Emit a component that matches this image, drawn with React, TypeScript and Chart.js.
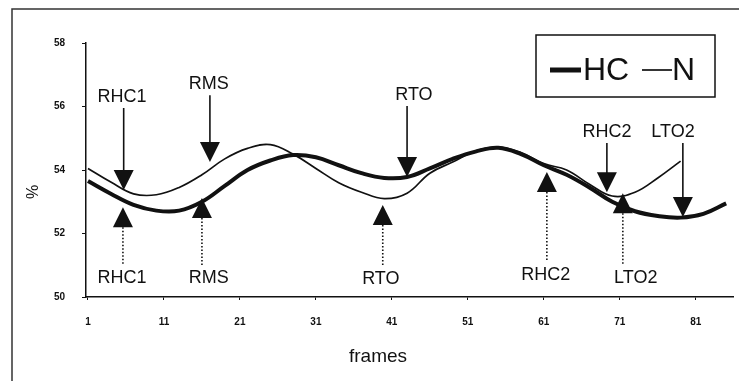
import React, { useEffect, useRef } from "react";
import { Chart, registerables } from "chart.js";

Chart.register(...registerables);

// ---- data ----
const hcFrames = [1, 4, 7, 10, 13, 16, 19, 22, 25, 28, 31, 34, 37, 40, 43, 46, 49, 52, 55, 58, 61, 64, 67, 70, 73, 76, 79, 82, 85];
const hcValues = [53.65, 53.25, 52.9, 52.72, 52.72, 53.0, 53.5, 54.0, 54.3, 54.47, 54.4, 54.15, 53.9, 53.75, 53.78, 54.05, 54.35, 54.58, 54.7, 54.5, 54.15, 53.85, 53.45, 53.0, 52.7, 52.55, 52.5, 52.62, 52.95];

const nFrames = [1, 4, 7, 10, 13, 16, 19, 22, 25, 28, 31, 34, 37, 40, 43, 46, 49, 52, 55, 58, 61, 64, 67, 70, 73, 76, 79];
const nValues = [54.05, 53.62, 53.25, 53.22, 53.45, 53.85, 54.35, 54.68, 54.8, 54.5, 54.05, 53.6, 53.3, 53.1, 53.27, 53.9, 54.25, 54.6, 54.72, 54.55, 54.2, 54.0, 53.55, 53.18, 53.3, 53.75, 54.28];

const xTickValues = [1, 11, 21, 31, 41, 51, 61, 71, 81];
const yTickValues = [50, 52, 54, 56, 58];

// events marked with solid arrows from above
const downLabels = ["RHC1", "RMS", "RTO", "RHC2", "LTO2"];
const downFrames = [5.7, 17.05, 43.0, 69.3, 79.3];
const downTips = [53.37, 54.25, 53.78, 53.3, 52.52];
const downLabelFrames = [5.47, 16.9, 43.9, 69.3, 78.0];
const downLabelLevels = [56.3, 56.7, 56.36, 55.2, 55.2];

// events marked with dotted arrows from below
const upLabels = ["RHC1", "RMS", "RTO", "RHC2", "LTO2"];
const upFrames = [5.6, 16.0, 39.8, 61.4, 71.4];
const upTips = [52.83, 53.12, 52.9, 53.94, 53.27];
const upLabelFrames = [5.47, 16.9, 39.55, 61.26, 73.1];
const upLabelLevels = [50.6, 50.6, 50.58, 50.69, 50.6];

const INK = "#111";
const FONT = "'Liberation Sans', Arial, sans-serif";

const decorPlugin = {
  id: "decor",
  afterDraw(chart: any) {
    const ctx = chart.ctx as CanvasRenderingContext2D;
    const xs = chart.scales.x;
    const ys = chart.scales.y;
    ctx.save();

    // outer page frame
    ctx.strokeStyle = "#333";
    ctx.lineWidth = 1.5;
    ctx.beginPath();
    ctx.moveTo(12, 381);
    ctx.lineTo(12, 9);
    ctx.lineTo(739, 9);
    ctx.stroke();

    // axis titles
    ctx.fillStyle = INK;
    ctx.font = `19px ${FONT}`;
    ctx.textAlign = "center";
    ctx.textBaseline = "alphabetic";
    ctx.fillText("frames", 378, 362);

    ctx.save();
    ctx.translate(34, 192);
    ctx.rotate(-Math.PI / 2);
    ctx.font = `16px ${FONT}`;
    ctx.textBaseline = "middle";
    ctx.fillText("%", 0, 0);
    ctx.restore();

    // legend
    const ds = chart.data.datasets;
    ctx.lineWidth = 1.5;
    ctx.strokeStyle = INK;
    ctx.strokeRect(536, 35, 179, 62);
    ctx.font = `32px ${FONT}`;
    ctx.textAlign = "left";
    ctx.textBaseline = "middle";
    ctx.lineCap = "butt";
    ctx.lineWidth = ds[0].borderWidth + 1;
    ctx.beginPath();
    ctx.moveTo(550, 70);
    ctx.lineTo(581, 70);
    ctx.stroke();
    ctx.fillText(ds[0].label, 583, 71);
    ctx.lineWidth = ds[1].borderWidth;
    ctx.beginPath();
    ctx.moveTo(642, 70);
    ctx.lineTo(672, 70);
    ctx.stroke();
    ctx.fillText(ds[1].label, 672, 71);

    // arrows
    const tri = 20;
    const half = 10;
    ctx.font = `18px ${FONT}`;
    ctx.textAlign = "center";
    ctx.textBaseline = "middle";
    for (let i = 0; i < downLabels.length; i++) {
      const x = xs.getPixelForValue(downFrames[i]);
      const tip = ys.getPixelForValue(downTips[i]);
      const ly = ys.getPixelForValue(downLabelLevels[i]);
      const lx = xs.getPixelForValue(downLabelFrames[i]);
      ctx.fillText(downLabels[i], lx, ly);
      ctx.lineWidth = 1.6;
      ctx.setLineDash([]);
      ctx.beginPath();
      ctx.moveTo(x, ly + 11);
      ctx.lineTo(x, tip - tri + 1);
      ctx.stroke();
      ctx.beginPath();
      ctx.moveTo(x - half, tip - tri);
      ctx.lineTo(x + half, tip - tri);
      ctx.lineTo(x, tip);
      ctx.closePath();
      ctx.fill();
    }
    for (let i = 0; i < upLabels.length; i++) {
      const x = xs.getPixelForValue(upFrames[i]);
      const tip = ys.getPixelForValue(upTips[i]);
      const ly = ys.getPixelForValue(upLabelLevels[i]);
      const lx = xs.getPixelForValue(upLabelFrames[i]);
      ctx.fillText(upLabels[i], lx, ly);
      ctx.lineWidth = 1.6;
      ctx.setLineDash([1.5, 2]);
      ctx.beginPath();
      ctx.moveTo(x, tip + tri);
      ctx.lineTo(x, ly - 13);
      ctx.stroke();
      ctx.setLineDash([]);
      ctx.beginPath();
      ctx.moveTo(x - half, tip + tri);
      ctx.lineTo(x + half, tip + tri);
      ctx.lineTo(x, tip);
      ctx.closePath();
      ctx.fill();
    }
    ctx.restore();
  },
};

export default function App() {
  const canvasRef = useRef<HTMLCanvasElement | null>(null);

  useEffect(() => {
    if (!canvasRef.current) return;
    const chart = new Chart(canvasRef.current, {
      type: "line",
      data: {
        datasets: [
          {
            label: "HC",
            data: hcFrames.map((f, i) => ({ x: f, y: hcValues[i] })),
            borderColor: INK,
            borderWidth: 4,
            pointRadius: 0,
            tension: 0.4,
            fill: false,
          },
          {
            label: "N",
            data: nFrames.map((f, i) => ({ x: f, y: nValues[i] })),
            borderColor: INK,
            borderWidth: 1.7,
            pointRadius: 0,
            tension: 0.4,
            fill: false,
          },
        ],
      },
      options: {
        animation: false,
        responsive: true,
        maintainAspectRatio: false,
        layout: { padding: { left: 0, right: 6, top: 43, bottom: 0 } },
        plugins: { legend: { display: false }, tooltip: { enabled: false } },
        events: [],
        scales: {
          x: {
            type: "linear",
            min: 0.74,
            max: 85.9,
            afterBuildTicks: (scale: any) => {
              scale.ticks = xTickValues.map((v) => ({ value: v }));
            },
            afterFit: (scale: any) => {
              scale.height = 84;
            },
            grid: { display: true, drawOnChartArea: false, drawTicks: true, tickLength: 3, color: INK },
            border: { display: true, color: INK, width: 1.5 },
            ticks: {
              color: INK,
              padding: 16,
              maxRotation: 0,
              autoSkip: false,
              font: { family: FONT, size: 10, weight: "bold" },
            },
          },
          y: {
            type: "linear",
            min: 50,
            max: 58,
            afterBuildTicks: (scale: any) => {
              scale.ticks = yTickValues.map((v) => ({ value: v }));
            },
            afterFit: (scale: any) => {
              scale.width = 86;
            },
            grid: { display: true, drawOnChartArea: false, drawTicks: true, tickLength: 4, color: INK },
            border: { display: true, color: INK, width: 1.5 },
            ticks: {
              color: INK,
              padding: 17,
              font: { family: FONT, size: 10, weight: "bold" },
            },
          },
        },
      },
      plugins: [decorPlugin],
    } as any);
    return () => chart.destroy();
  }, []);

  return (
    <div style={{ position: "absolute", left: 0, top: 0, width: 739, height: 381, background: "#fff" }}>
      <canvas ref={canvasRef} />
    </div>
  );
}
